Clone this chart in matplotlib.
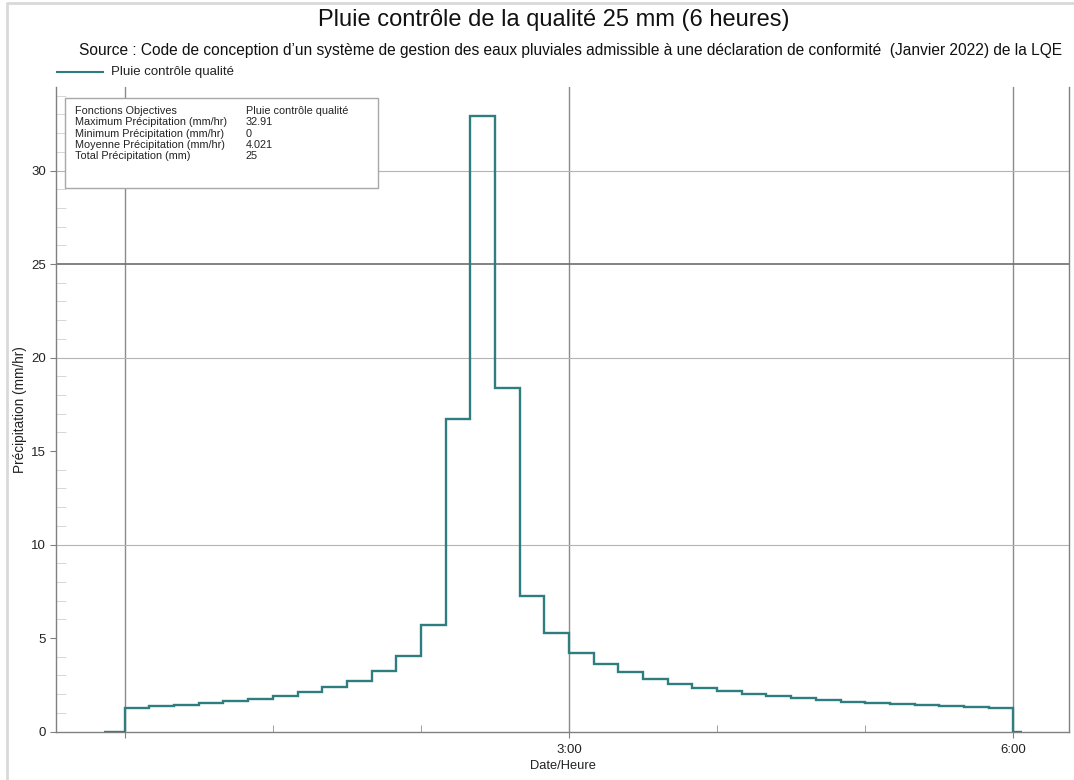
import numpy as np
import matplotlib
matplotlib.use("Agg")
import matplotlib.pyplot as plt
from matplotlib.patches import Rectangle
from matplotlib.ticker import FixedLocator, MultipleLocator

plt.rcParams["font.family"] = ["Liberation Sans", "DejaVu Sans"]

# pluie 10 min, en heures depuis le début
pas_h = 1 / 6
precip = [1.28, 1.35, 1.43, 1.53, 1.64, 1.76, 1.91, 2.10, 2.37, 2.71, 3.23, 4.06,
          5.69, 16.70, 32.91, 18.35, 7.25, 5.29, 4.22, 3.60, 3.16, 2.80, 2.53, 2.32,
          2.17, 2.01, 1.89, 1.78, 1.69, 1.60, 1.53, 1.46, 1.41, 1.35, 1.32, 1.27]
debut_h = -0.14
fin_h = 6.06

stats_noms = ["Fonctions Objectives", "Maximum Précipitation (mm/hr)",
              "Minimum Précipitation (mm/hr)", "Moyenne Précipitation (mm/hr)",
              "Total Précipitation (mm)"]
stats_vals = ["Pluie contrôle qualité", "32.91", "0", "4.021", "25"]

x_ticks = [0, 3, 6]
x_labels = ["", "3:00", "6:00"]

couleur = "#2e7e80"
W, H = 1074, 780


def fx(px):
    return px / W


def fy(py):
    return 1 - py / H


fig = plt.figure(figsize=(W / 100, H / 100), dpi=100)
ax = fig.add_axes([fx(56), fy(731.5), fx(1069) - fx(56), fy(87) - fy(731.5)])

# valeurs nulles avant et après la pluie
vals = [0] + precip + [0]
bords = [debut_h] + list(np.arange(len(precip) + 1) * pas_h) + [fin_h]
ax.stairs(vals, bords, baseline=None, color=couleur, lw=1.7, zorder=3)

ax.set_xlim(-0.464, 6.376)
ax.set_ylim(0, 34.47)

# grilles
for x in x_ticks:
    ax.axvline(x, color="#8a8a8a", lw=1.0, zorder=1)
for y in [10, 20, 30]:
    ax.axhline(y, color="#b4b4b4", lw=0.8, zorder=1)
ax.axhline(25, color="#6e6e6e", lw=1.2, zorder=1)

ax.xaxis.set_major_locator(FixedLocator(x_ticks))
ax.set_xticklabels(x_labels)
ax.xaxis.set_minor_locator(FixedLocator([1, 2, 4, 5]))
ax.yaxis.set_major_locator(MultipleLocator(5))
ax.yaxis.set_minor_locator(MultipleLocator(1))
ax.tick_params(which="major", direction="out", length=4, color="#808080",
               labelsize=9.5, labelcolor="#222222", pad=3)
ax.tick_params(axis="x", which="major", pad=5)
ax.tick_params(axis="x", which="minor", direction="in", length=5, color="#909090")
ax.tick_params(axis="y", which="minor", direction="in", length=7, color="#d0d0d0")

for s in ["left", "bottom", "right"]:
    ax.spines[s].set_color("#808080")
    ax.spines[s].set_linewidth(1.0)
ax.spines["top"].set_visible(False)

ax.set_xlabel("Date/Heure", fontsize=9.3, color="#222222", labelpad=3)
ax.set_ylabel("Précipitation (mm/hr)", fontsize=9.8, color="#222222", labelpad=3)

# titres
fig.text(fx(554), fy(20), "Pluie contrôle de la qualité 25 mm (6 heures)",
         ha="center", va="center", fontsize=17, color="#111111")
fig.text(fx(570.5), fy(50),
         "Source : Code de conception d’un système de gestion des eaux pluviales admissible "
         "à une déclaration de conformité  (Janvier 2022) de la LQE",
         ha="center", va="center", fontsize=11.2, color="#111111")

# légende
fig.add_artist(plt.Line2D([fx(57), fx(103)], [fy(72), fy(72)], color=couleur, lw=1.5))
fig.text(fx(111), fy(72), "Pluie contrôle qualité", ha="left", va="center",
         fontsize=9.5, color="#222222")

# encadré des statistiques
fig.add_artist(Rectangle((fx(65), fy(188)), fx(378) - fx(65), fy(98) - fy(188),
                         transform=fig.transFigure, facecolor="white",
                         edgecolor="#a8a8a8", lw=1.0, zorder=5))
for i, (nom, val) in enumerate(zip(stats_noms, stats_vals)):
    yy = fy(111 + i * 11.3)
    fig.text(fx(75), yy, nom, ha="left", va="center", fontsize=7.8, color="#222222", zorder=6)
    fig.text(fx(246), yy, val, ha="left", va="center", fontsize=7.8, color="#222222", zorder=6)

# bord gris (gauche et haut) de la figure
fig.add_artist(plt.Line2D([fx(7), fx(7), fx(1074)], [fy(780), fy(3), fy(3)],
                          color="#d9d9d9", lw=2.0))

fig.savefig("out.png", dpi=100)
